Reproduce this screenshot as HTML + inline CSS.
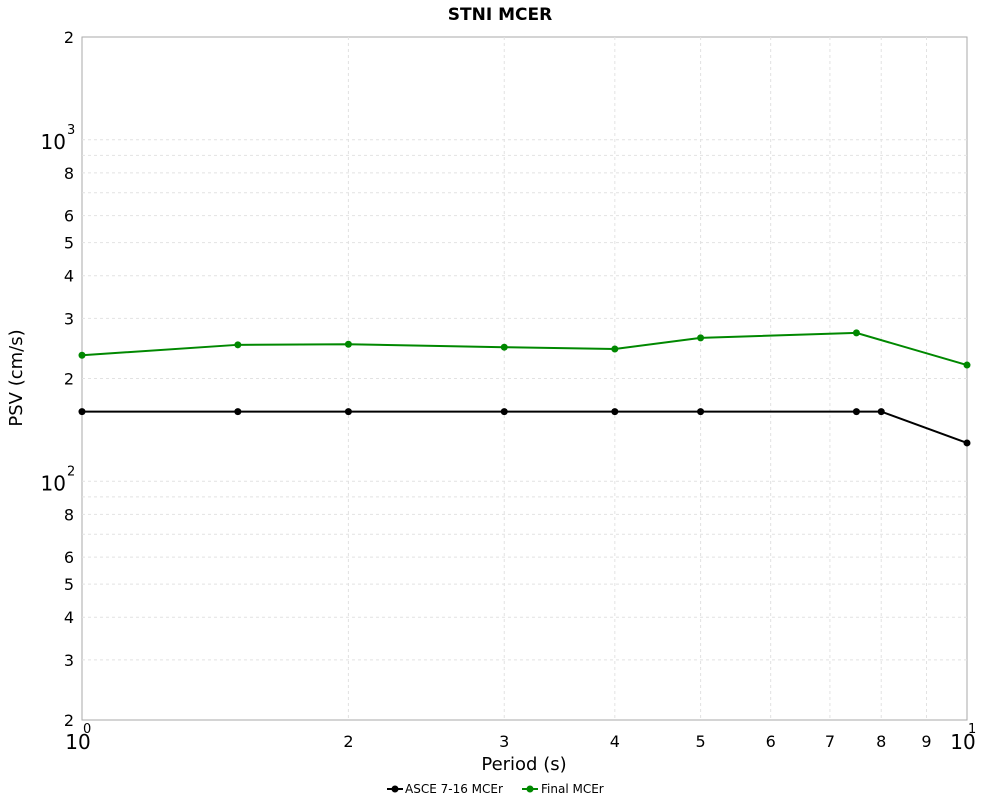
<!DOCTYPE html>
<html><head><meta charset="utf-8"><style>
body{margin:0;background:#fff;font-family:"DejaVu Sans","Liberation Sans",sans-serif}
svg{font-family:"DejaVu Sans","Liberation Sans",sans-serif}
</style></head><body>
<svg width="1000" height="800" xmlns="http://www.w3.org/2000/svg" id="chart">
<text x="500" y="20" text-anchor="middle" font-size="17" font-weight="bold">STNI MCER</text>
<rect x="82" y="37" width="885" height="683" fill="#fff" stroke="#aaa"/>
<g id="grid"></g><g id="axes"></g><g id="series"></g>
<text x="524" y="770" text-anchor="middle" font-size="18">Period (s)</text>
<text transform="translate(22,378) rotate(-90)" text-anchor="middle" font-size="18">PSV (cm/s)</text>
<g font-size="12">
<g><line x1="387" y1="789" x2="403" y2="789" stroke="#000" stroke-width="2"/><circle cx="395" cy="789" r="3.5" fill="#000"/><text x="405" y="793">ASCE 7-16 MCEr</text></g>
<g><line x1="522" y1="789" x2="538" y2="789" stroke="#080" stroke-width="2"/><circle cx="530" cy="789" r="3.5" fill="#080"/><text x="541" y="793">Final MCEr</text></g>
</g>
</svg>
<script>
const periods=[1,1.5,2,3,4,5,7.5,8,10];
const asceValues=[160,160,160,160,160,160,160,160,129.5];
const finalPeriods=[1,1.5,2,3,4,5,7.5,10];
const finalValues=[234,251,252,247,244,263,272,219];
const xL=82,xR=967,yT=37,yB=720;
const sx=v=>xL+(xR-xL)*Math.log10(v);
const sy=v=>yB-(yB-yT)*(Math.log10(v)-Math.log10(20))/2;
const NS="http://www.w3.org/2000/svg";
function mk(t,a,p){const e=document.createElementNS(NS,t);for(const k in a)e.setAttribute(k,a[k]);p.appendChild(e);return e;}
const grid=document.getElementById('grid'),axes=document.getElementById('axes'),ser=document.getElementById('series');
for(let x=2;x<=9;x++){const l=mk('line',{x1:sx(x),x2:sx(x),y1:yT,y2:yB,stroke:'#e2e2e2','stroke-dasharray':'3,3'},grid);


const t=mk('text',{x:sx(x),y:747,'text-anchor':'middle','font-size':'16'},axes);t.textContent=x;

}
[[xL,'0'],[xR,'1']].forEach(([x,e])=>{const t=mk('text',{x:x-4,y:749,'text-anchor':'middle','font-size':'20'},axes);t.textContent='10';


const s=mk('text',{x:x+1,y:733,'font-size':'13'},axes);s.textContent=e;});
const yLab={2:'2',3:'3',4:'4',5:'5',6:'6',8:'8'};
[10,100,1000].forEach(dec=>{for(let m=1;m<=9;m++){const v=dec*m;if(v<20||v>2000)continue;const y=sy(v);
if(v>20&&v<2000){const l=mk('line',{x1:xL,x2:xR,y1:y,y2:y,stroke:'#e2e2e2','stroke-dasharray':'3,3'},grid);

}
if(m===1){const t=mk('text',{x:66,y:y+9,'text-anchor':'end','font-size':'20'},axes);t.textContent='10';


const s=mk('text',{x:67,y:y-6,'font-size':'13'},axes);s.textContent=String(Math.log10(dec));}
else if(yLab[m]){const t=mk('text',{x:74,y:y+6,'text-anchor':'end','font-size':'16'},axes);t.textContent=yLab[m];

}}});
[[periods,asceValues,'#000','asce'],[finalPeriods,finalValues,'#080','final']].forEach(([px,vs,c,n])=>{
const p=mk('polyline',{points:px.map((x,i)=>sx(x)+','+sy(vs[i])).join(' '),fill:'none',stroke:c,'stroke-width':2},ser);


px.forEach((x,i)=>{const d=mk('circle',{cx:sx(x),cy:sy(vs[i]),r:3.5,fill:c},ser);

});});
</script>
</body></html>
